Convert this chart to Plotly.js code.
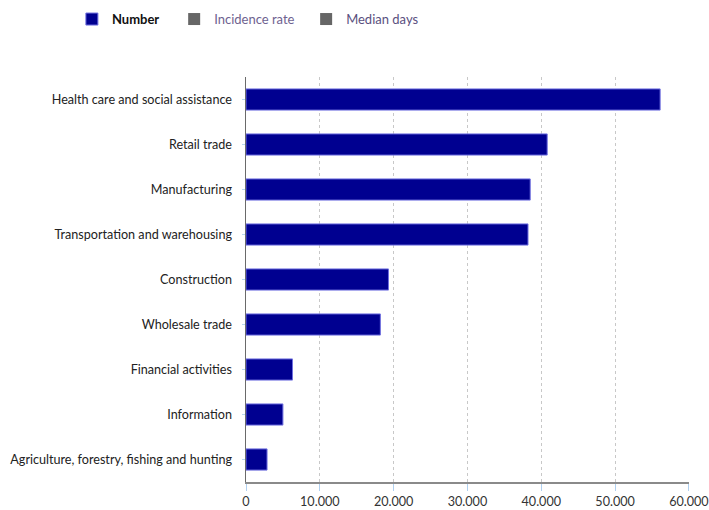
<!DOCTYPE html>
<html>
<head>
<meta charset="utf-8">
<script src="https://cdn.plot.ly/plotly-3.0.1.min.js"></script>
<style>html,body{margin:0;padding:0;background:#fff;}#chart{width:709px;height:510px;}</style>
</head>
<body>
<div id="chart"></div>
<script>
const categories = [
  "Health care and social assistance",
  "Retail trade",
  "Manufacturing",
  "Transportation and warehousing",
  "Construction",
  "Wholesale trade",
  "Financial activities",
  "Information",
  "Agriculture, forestry, fishing and hunting"
];
const numberValues = [56100, 40800, 38500, 38200, 19300, 18200, 6300, 5000, 2850];
const xTickValues = [0, 10000, 20000, 30000, 40000, 50000, 60000];
const legendNames = ["Number", "Incidence rate", "Median days"];

const font = "Lato, 'Open Sans', sans-serif";

const traces = [
  {
    type: "bar",
    orientation: "h",
    y: categories,
    x: numberValues,
    name: "<b>" + legendNames[0] + "</b>\u00a0\u00a0\u00a0",
    marker: {color: "#000090", line: {color: "#7070e0", width: 1}},
    hoverinfo: "x+y"
  },
  {
    type: "bar", orientation: "h", y: [null], x: [null],
    name: "<span style='color:#6e6290'>" + legendNames[1] + "</span>\u00a0\u00a0",
    marker: {color: "#666666"}
  },
  {
    type: "bar", orientation: "h", y: [null], x: [null],
    name: "<span style='color:#5a5080'>" + legendNames[2] + "</span>",
    marker: {color: "#666666"}
  }
];

const layout = {
  width: 709,
  height: 510,
  margin: {l: 246, r: 20, t: 77, b: 28, autoexpand: false},
  paper_bgcolor: "#ffffff",
  plot_bgcolor: "#ffffff",
  font: {family: font, size: 13, color: "#222"},
  separators: ",.",
  bargap: 0.53,
  showlegend: true,
  legend: {
    orientation: "h",
    x: -0.393, xanchor: "left",
    y: 1.143, yanchor: "middle",
    font: {family: font, size: 13, color: "#111"},
    itemclick: false,
    traceorder: "normal",
    itemwidth: 30
  },
  xaxis: {
    range: [0, 60010],
    tickvals: xTickValues,
    tickformat: ",d",
    showgrid: true,
    gridcolor: "#c8c8c8",
    griddash: "dot",
    gridwidth: 1,
    zeroline: false,
    showline: true,
    linecolor: "#8a8a8a",
    linewidth: 1.5,
    ticks: "outside",
    ticklen: 7,
    tickcolor: "#b0d0f0",
    ticklabeloverflow: "allow",
    tickfont: {family: font, size: 12.6, color: "#333"},
    automargin: false,
    fixedrange: true
  },
  yaxis: {
    autorange: "reversed",
    showgrid: false,
    zeroline: false,
    showline: true,
    linecolor: "#6a6a6a",
    linewidth: 1.5,
    ticks: "outside",
    ticklen: 3,
    tickcolor: "#b8d8f0",
    ticklabelstandoff: 7,
    tickfont: {family: font, size: 12.6, color: "#222"},
    automargin: false,
    fixedrange: true
  }
};

Plotly.newPlot("chart", traces, layout, {displayModeBar: false, staticPlot: true});
</script>
</body>
</html>
